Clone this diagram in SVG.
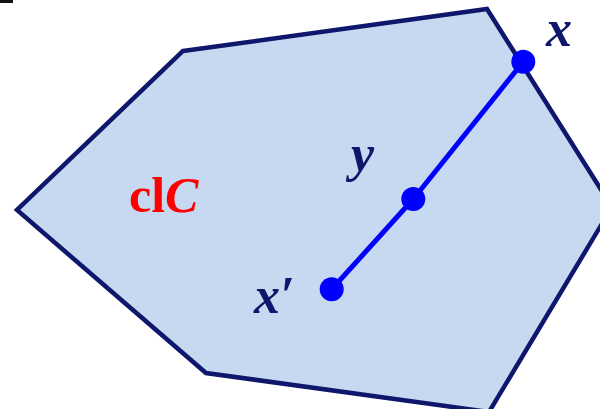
<svg xmlns="http://www.w3.org/2000/svg" width="600" height="409" viewBox="0 0 600 409">
<style>
.region{fill:#c6d9f0;stroke:#0e176b;stroke-width:4.5;stroke-linejoin:miter}
.seg{fill:none;stroke:#0000ff;stroke-width:5;stroke-linejoin:round}
.pt{fill:#0000ff}
.lbl{font-family:"Liberation Serif",serif;font-weight:bold;font-style:italic;font-size:52px;fill:#0e176b}
.set{font-family:"Liberation Serif",serif;font-weight:bold;font-size:50px;fill:#ff0000}
</style>
<rect x="0" y="0" width="13" height="3" fill="#111"/>
<g id="closure-set">
<polygon class="region" points="183,51 487,9 612,207 489,412 206,373 17,210"/>
<text class="set" x="129" y="212">cl<tspan font-style="italic">C</tspan></text>
</g>
<g id="connectors">
<polyline class="seg" points="331.7,289.3 413.3,199 523.3,61.7"/>
</g>
<g id="point-x">
<circle class="pt" cx="523.3" cy="61.7" r="12"/>
<text class="lbl" x="546" y="46" font-size="50">x</text>
</g>
<g id="point-y">
<circle class="pt" cx="413.3" cy="199" r="12"/>
<text class="lbl" x="351" y="171">y</text>
</g>
<g id="point-xprime">
<circle class="pt" cx="331.7" cy="289.3" r="12"/>
<text class="lbl" x="254" y="313">x′</text>
</g>
</svg>
